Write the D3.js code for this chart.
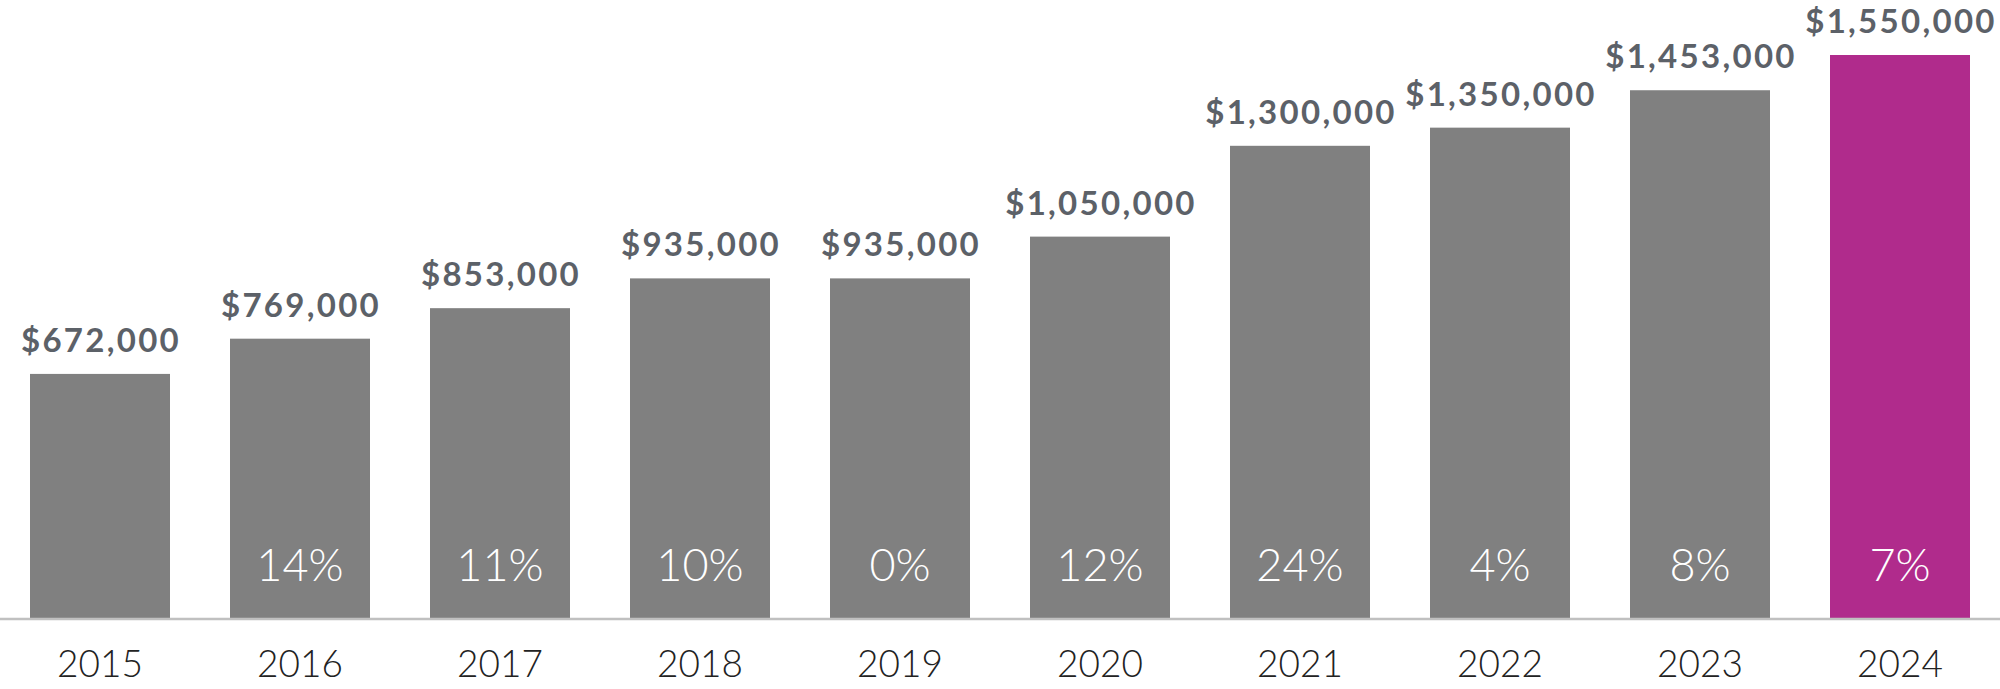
<!DOCTYPE html>
<html><head><meta charset="utf-8">
<script src="https://cdn.jsdelivr.net/npm/d3@7"></script>
<style>html,body{margin:0;padding:0;background:#fff;}svg{display:block;}</style>
</head><body>
<svg id="c" width="2000" height="689"></svg>
<script>
const years = ["2015","2016","2017","2018","2019","2020","2021","2022","2023","2024"];
const prices = [672000,769000,853000,935000,935000,1050000,1300000,1350000,1453000,1550000];
const changes = ["","14%","11%","10%","0%","12%","24%","4%","8%","7%"];

const svg = d3.select("#c");
const baseY = 618;
const x = d3.scaleBand().domain(years).range([0,2000]).paddingInner(0.3).paddingOuter(0.15);
const y = d3.scaleLinear().domain([0,1550000]).range([baseY,55]);
const fmt = v => "$" + d3.format(",")(v);

svg.selectAll("rect.bar").data(years).join("rect")
  .attr("class","bar")
  .attr("x",d=>x(d)).attr("width",x.bandwidth())
  .attr("y",(d,i)=>y(prices[i])).attr("height",(d,i)=>baseY-y(prices[i]))
  .attr("fill",(d,i)=>i===years.length-1?"#b02b8c":"#808080");

svg.append("line").attr("x1",0).attr("x2",2000).attr("y1",baseY+1).attr("y2",baseY+1)
  .attr("stroke","#c0c0c0").attr("stroke-width",2.5);

svg.selectAll("text.val").data(years).join("text")
  .attr("class","val")
  .attr("x",d=>x(d)+x.bandwidth()/2+1).attr("y",(d,i)=>y(prices[i])-22)
  .attr("text-anchor","middle")
  .style("font-family","Lato, 'Open Sans', sans-serif").style("font-weight",700)
  .style("font-size","33px").style("letter-spacing","2.3px").attr("fill","#5c6168")
  .text((d,i)=>fmt(prices[i]));

svg.selectAll("text.pct").data(years).join("text")
  .attr("class","pct")
  .attr("x",d=>x(d)+x.bandwidth()/2).attr("y",581)
  .attr("text-anchor","middle")
  .style("font-family","Lato, 'Open Sans', sans-serif").style("font-weight",300)
  .style("font-size","45px").attr("fill","#ffffff")
  .text((d,i)=>changes[i]);

const xAxis = d3.axisBottom(x).tickSize(0).tickPadding(0);
const g = svg.append("g").attr("transform",`translate(0,${baseY})`).call(xAxis);
g.select(".domain").remove();
g.selectAll("text").attr("dy",null).attr("y",59)
  .style("font-family","Lato, 'Open Sans', sans-serif").style("font-weight",300)
  .style("font-size","37px").attr("fill","#222222");
</script>
</body></html>
